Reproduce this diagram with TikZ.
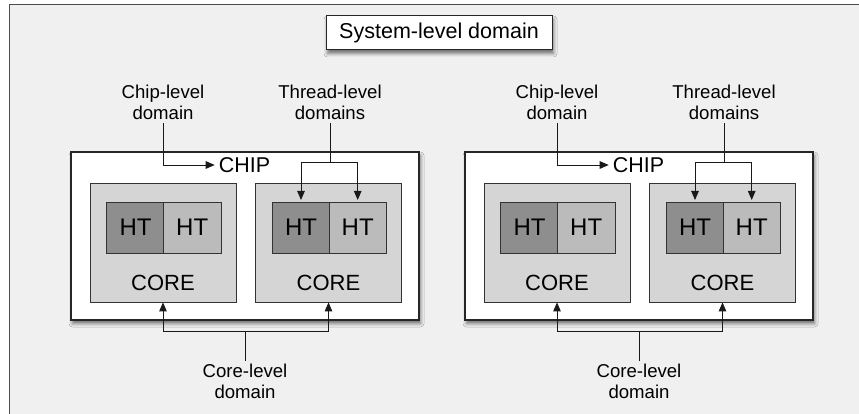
\documentclass[tikz,border=0pt]{standalone}
\usepackage{fontspec}
\setmainfont{Liberation Sans}
\usetikzlibrary{positioning,arrows.meta,shadows.blur}

\definecolor{panelgray}{HTML}{F0F0F0}
\definecolor{coregray}{HTML}{D5D5D5}
\definecolor{htdark}{HTML}{8E8E8E}
\definecolor{htlight}{HTML}{BBBBBB}

\tikzset{
  boxshadow/.style={blur shadow={shadow xshift=1.5pt, shadow yshift=-3.5pt,
    shadow blur radius=3.5pt, shadow opacity=55}},
  chipbox/.style={draw=black!85, line width=1.1pt, fill=white, boxshadow,
    minimum width=348pt, minimum height=168pt},
  corebox/.style={draw=black!80, line width=0.8pt, fill=coregray,
    minimum width=146pt, minimum height=119pt},
  htcell/.style={draw=black!80, line width=0.8pt, inner sep=0pt, outer sep=0pt,
    minimum width=57.5pt, minimum height=51pt, font=\fontsize{24}{28}\selectfont},
  boxtext/.style={inner sep=4pt, font=\fontsize{22}{26}\selectfont},
  domlabel/.style={align=center, inner xsep=0pt, inner ysep=3pt,
    font=\fontsize{18.6}{21.5}\selectfont},
  domline/.style={line width=0.9pt, black!90},
  domarrow/.style={domline, -{Triangle[length=9pt,width=7.5pt]}}
}

\begin{document}
\begin{tikzpicture}[x=1pt, y=-1pt]
\useasboundingbox (0,0) rectangle (859,414);

% panel behind everything
\fill[panelgray] (9.5,4.5) rectangle (875,425);
\draw[line width=1.5pt, black!70] (875,4.5) -- (9.5,4.5) -- (9.5,425);

\node[draw=black!85, line width=1pt, fill=white, boxshadow, minimum width=226pt,
  minimum height=34pt, font=\fontsize{21.5}{25}\selectfont] (sys) at (439,33) {System-level domain};

\foreach \off/\s in {0/L,394/R} {
  % chip with its two cores
  \node[chipbox] (chip\s) at ({245+\off},236) {};
  \node[boxtext, font=\fontsize{21.4}{25}\selectfont] (chiptxt\s) at ({244.5+\off},165) {CHIP};
  \node[corebox] (coreA\s) at ({163+\off},242.5) {};
  \node[corebox] (coreB\s) at ({328.5+\off},242.5) {};
  \node[boxtext] at ({163+\off},283) {CORE};
  \node[boxtext] at ({328.5+\off},283) {CORE};

  % hardware threads
  \node[htcell, fill=htdark] (htA1\s) at ({135.5+\off},227.5) {HT};
  \node[htcell, fill=htlight, right=-0.8pt of htA1\s] (htA2\s) {HT};
  \node[htcell, fill=htdark] (htB1\s) at ({301+\off},227.5) {HT};
  \node[htcell, fill=htlight, right=-0.8pt of htB1\s] (htB2\s) {HT};

  % domain labels and their arrows
  \node[domlabel] (chiplbl\s) at ({163+\off},102.5) {Chip-level\\domain};
  \node[domlabel] (thrlbl\s) at ({330+\off},102.5) {Thread-level\\domains};
  \node[domlabel] (corelbl\s) at ({245+\off},381.5) {Core-level\\domain};
  \coordinate (thrjoin\s) at ({330+\off},162);
  \coordinate (corejoin\s) at ({245+\off},331);

  \draw[domarrow] (chiplbl\s.south) |- (chiptxt\s.west);
  \draw[domline] (thrlbl\s.south) -- (thrjoin\s);
  \draw[domarrow] (thrjoin\s) -| ([yshift=2pt]htB1\s.north);
  \draw[domarrow] (thrjoin\s) -| ([yshift=2pt]htB2\s.north);
  \draw[domline] (corelbl\s.north) -- (corejoin\s);
  \draw[domarrow] (corejoin\s) -| (coreA\s.south);
  \draw[domarrow] (corejoin\s) -| (coreB\s.south);
}
\end{tikzpicture}
\end{document}
